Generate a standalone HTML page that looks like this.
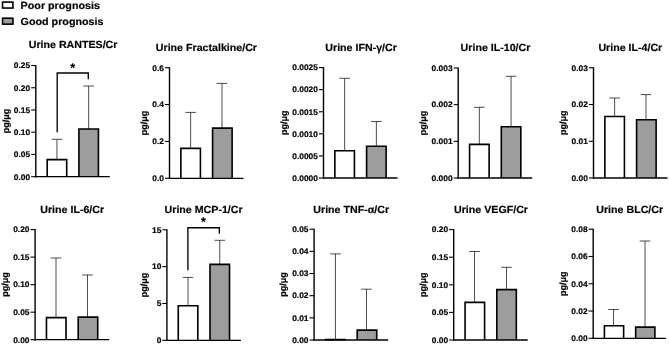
<!DOCTYPE html>
<html><head><meta charset="utf-8"><title>Urine cytokines</title>
<style>text{stroke:#000;stroke-width:0.18px;text-rendering:geometricPrecision}html,body{margin:0;padding:0;background:#fff;overflow:hidden}body{width:669px;height:345px}</style>
</head><body>
<svg width="669" height="345" viewBox="0 0 669 345" style="display:block;font-family:'Liberation Sans', sans-serif;font-weight:bold">
<rect width="669" height="345" fill="#fff"/>
<rect x="2.55" y="2.1" width="10.4" height="5.95" fill="#fff" stroke="#000" stroke-width="1.6"/>
<rect x="2.55" y="18.2" width="10.4" height="5.95" fill="#9d9d9d" stroke="#000" stroke-width="1.6"/>
<text transform="translate(20.60,9.00) scale(1.035,1)" font-size="10.386">Poor prognosis</text>
<text transform="translate(20.60,24.70) scale(1.035,1)" font-size="10.386">Good prognosis</text>
<g>
<text transform="translate(73.10,48.35) scale(1.035,1)" font-size="10.290" text-anchor="middle">Urine RANTES/Cr</text>
<text transform="translate(8.60,121.00) rotate(-90)" font-size="9.0" text-anchor="middle">pg/μg</text>
<path d="M56.94 160.20V139.30M51.64 139.30H62.24" stroke="#000" stroke-width="0.7" fill="none"/>
<path d="M88.66 129.60V86.00M83.36 86.00H93.96" stroke="#000" stroke-width="0.7" fill="none"/>
<path d="M47.17 176.70V159.60H66.71V176.70" fill="#fff" stroke="#000" stroke-width="1.6" stroke-linejoin="miter"/>
<path d="M78.89 176.70V129.00H98.43V176.70" fill="#9d9d9d" stroke="#000" stroke-width="1.6" stroke-linejoin="miter"/>
<path d="M35.80 64.95V177.40" stroke="#000" stroke-width="1.4" fill="none"/>
<path d="M35.10 176.70H109.80" stroke="#000" stroke-width="1.2999999999999998" fill="none"/>
<path d="M31.20 176.70H35.80" stroke="#000" stroke-width="1.1"/>
<text transform="translate(30.20,179.50) scale(1.03,1)" font-size="8.155" text-anchor="end">0.00</text>
<path d="M31.20 154.46H35.80" stroke="#000" stroke-width="1.1"/>
<text transform="translate(30.20,157.26) scale(1.03,1)" font-size="8.155" text-anchor="end">0.05</text>
<path d="M31.20 132.22H35.80" stroke="#000" stroke-width="1.1"/>
<text transform="translate(30.20,135.02) scale(1.03,1)" font-size="8.155" text-anchor="end">0.10</text>
<path d="M31.20 109.98H35.80" stroke="#000" stroke-width="1.1"/>
<text transform="translate(30.20,112.78) scale(1.03,1)" font-size="8.155" text-anchor="end">0.15</text>
<path d="M31.20 87.74H35.80" stroke="#000" stroke-width="1.1"/>
<text transform="translate(30.20,90.54) scale(1.03,1)" font-size="8.155" text-anchor="end">0.20</text>
<path d="M31.20 65.50H35.80" stroke="#000" stroke-width="1.1"/>
<text transform="translate(30.20,68.30) scale(1.03,1)" font-size="8.155" text-anchor="end">0.25</text>
<path d="M57.2 132.2V73.0H88.3V79.3" stroke="#000" stroke-width="1.35" fill="none"/>
<text x="72.7" y="71.55" font-size="12.5" text-anchor="middle">*</text>
</g>
<g>
<text transform="translate(206.40,50.90) scale(1.035,1)" font-size="10.290" text-anchor="middle">Urine Fractalkine/Cr</text>
<text transform="translate(147.40,122.90) rotate(-90)" font-size="9.0" text-anchor="middle">pg/μg</text>
<path d="M190.64 149.00V112.40M185.34 112.40H195.94" stroke="#000" stroke-width="0.7" fill="none"/>
<path d="M222.00 128.70V83.40M216.70 83.40H227.30" stroke="#000" stroke-width="0.7" fill="none"/>
<path d="M180.87 178.30V148.40H200.41V178.30" fill="#fff" stroke="#000" stroke-width="1.6" stroke-linejoin="miter"/>
<path d="M212.59 178.30V128.10H232.13V178.30" fill="#9d9d9d" stroke="#000" stroke-width="1.6" stroke-linejoin="miter"/>
<path d="M169.50 67.15V179.00" stroke="#000" stroke-width="1.4" fill="none"/>
<path d="M168.80 178.30H243.50" stroke="#000" stroke-width="1.2999999999999998" fill="none"/>
<path d="M164.90 178.30H169.50" stroke="#000" stroke-width="1.1"/>
<text transform="translate(163.90,181.10) scale(1.03,1)" font-size="8.155" text-anchor="end">0.0</text>
<path d="M164.90 141.43H169.50" stroke="#000" stroke-width="1.1"/>
<text transform="translate(163.90,144.23) scale(1.03,1)" font-size="8.155" text-anchor="end">0.2</text>
<path d="M164.90 104.57H169.50" stroke="#000" stroke-width="1.1"/>
<text transform="translate(163.90,107.37) scale(1.03,1)" font-size="8.155" text-anchor="end">0.4</text>
<path d="M164.90 67.70H169.50" stroke="#000" stroke-width="1.1"/>
<text transform="translate(163.90,70.50) scale(1.03,1)" font-size="8.155" text-anchor="end">0.6</text>
</g>
<g>
<text transform="translate(361.10,50.90) scale(1.035,1)" font-size="10.290" text-anchor="middle">Urine IFN-γ/Cr</text>
<text transform="translate(286.60,122.70) rotate(-90)" font-size="9.0" text-anchor="middle">pg/μg</text>
<path d="M344.64 151.30V78.30M339.34 78.30H349.94" stroke="#000" stroke-width="0.7" fill="none"/>
<path d="M376.36 146.80V121.50M371.06 121.50H381.66" stroke="#000" stroke-width="0.7" fill="none"/>
<path d="M334.87 178.00V150.70H354.41V178.00" fill="#fff" stroke="#000" stroke-width="1.6" stroke-linejoin="miter"/>
<path d="M366.59 178.00V146.20H386.13V178.00" fill="#9d9d9d" stroke="#000" stroke-width="1.6" stroke-linejoin="miter"/>
<path d="M323.50 67.05V178.70" stroke="#000" stroke-width="1.4" fill="none"/>
<path d="M322.80 178.00H397.50" stroke="#000" stroke-width="1.2999999999999998" fill="none"/>
<path d="M318.90 178.00H323.50" stroke="#000" stroke-width="1.1"/>
<text transform="translate(317.90,180.80) scale(1.03,1)" font-size="8.155" text-anchor="end">0.0000</text>
<path d="M318.90 155.92H323.50" stroke="#000" stroke-width="1.1"/>
<text transform="translate(317.90,158.72) scale(1.03,1)" font-size="8.155" text-anchor="end">0.0005</text>
<path d="M318.90 133.84H323.50" stroke="#000" stroke-width="1.1"/>
<text transform="translate(317.90,136.64) scale(1.03,1)" font-size="8.155" text-anchor="end">0.0010</text>
<path d="M318.90 111.76H323.50" stroke="#000" stroke-width="1.1"/>
<text transform="translate(317.90,114.56) scale(1.03,1)" font-size="8.155" text-anchor="end">0.0015</text>
<path d="M318.90 89.68H323.50" stroke="#000" stroke-width="1.1"/>
<text transform="translate(317.90,92.48) scale(1.03,1)" font-size="8.155" text-anchor="end">0.0020</text>
<path d="M318.90 67.60H323.50" stroke="#000" stroke-width="1.1"/>
<text transform="translate(317.90,70.40) scale(1.03,1)" font-size="8.155" text-anchor="end">0.0025</text>
</g>
<g>
<text transform="translate(495.50,50.90) scale(1.035,1)" font-size="10.290" text-anchor="middle">Urine IL-10/Cr</text>
<text transform="translate(426.40,122.90) rotate(-90)" font-size="9.0" text-anchor="middle">pg/μg</text>
<path d="M479.34 145.00V107.30M474.04 107.30H484.64" stroke="#000" stroke-width="0.7" fill="none"/>
<path d="M511.06 127.40V76.30M505.76 76.30H516.36" stroke="#000" stroke-width="0.7" fill="none"/>
<path d="M469.57 178.00V144.40H489.11V178.00" fill="#fff" stroke="#000" stroke-width="1.6" stroke-linejoin="miter"/>
<path d="M501.29 178.00V126.80H520.83V178.00" fill="#9d9d9d" stroke="#000" stroke-width="1.6" stroke-linejoin="miter"/>
<path d="M458.20 67.45V178.70" stroke="#000" stroke-width="1.4" fill="none"/>
<path d="M457.50 178.00H532.20" stroke="#000" stroke-width="1.2999999999999998" fill="none"/>
<path d="M453.60 178.00H458.20" stroke="#000" stroke-width="1.1"/>
<text transform="translate(452.60,180.80) scale(1.03,1)" font-size="8.155" text-anchor="end">0.000</text>
<path d="M453.60 141.33H458.20" stroke="#000" stroke-width="1.1"/>
<text transform="translate(452.60,144.13) scale(1.03,1)" font-size="8.155" text-anchor="end">0.001</text>
<path d="M453.60 104.67H458.20" stroke="#000" stroke-width="1.1"/>
<text transform="translate(452.60,107.47) scale(1.03,1)" font-size="8.155" text-anchor="end">0.002</text>
<path d="M453.60 68.00H458.20" stroke="#000" stroke-width="1.1"/>
<text transform="translate(452.60,70.80) scale(1.03,1)" font-size="8.155" text-anchor="end">0.003</text>
</g>
<g>
<text transform="translate(630.30,50.90) scale(1.035,1)" font-size="10.290" text-anchor="middle">Urine IL-4/Cr</text>
<text transform="translate(566.40,122.80) rotate(-90)" font-size="9.0" text-anchor="middle">pg/μg</text>
<path d="M614.64 117.10V98.00M609.34 98.00H619.94" stroke="#000" stroke-width="0.7" fill="none"/>
<path d="M646.00 120.30V94.60M640.70 94.60H651.30" stroke="#000" stroke-width="0.7" fill="none"/>
<path d="M604.87 178.00V116.50H624.41V178.00" fill="#fff" stroke="#000" stroke-width="1.6" stroke-linejoin="miter"/>
<path d="M636.59 178.00V119.70H656.13V178.00" fill="#9d9d9d" stroke="#000" stroke-width="1.6" stroke-linejoin="miter"/>
<path d="M593.50 67.25V178.70" stroke="#000" stroke-width="1.4" fill="none"/>
<path d="M592.80 178.00H667.50" stroke="#000" stroke-width="1.2999999999999998" fill="none"/>
<path d="M588.90 178.00H593.50" stroke="#000" stroke-width="1.1"/>
<text transform="translate(587.90,180.80) scale(1.03,1)" font-size="8.155" text-anchor="end">0.00</text>
<path d="M588.90 141.27H593.50" stroke="#000" stroke-width="1.1"/>
<text transform="translate(587.90,144.07) scale(1.03,1)" font-size="8.155" text-anchor="end">0.01</text>
<path d="M588.90 104.53H593.50" stroke="#000" stroke-width="1.1"/>
<text transform="translate(587.90,107.33) scale(1.03,1)" font-size="8.155" text-anchor="end">0.02</text>
<path d="M588.90 67.80H593.50" stroke="#000" stroke-width="1.1"/>
<text transform="translate(587.90,70.60) scale(1.03,1)" font-size="8.155" text-anchor="end">0.03</text>
</g>
<g>
<text transform="translate(72.20,212.75) scale(1.035,1)" font-size="10.290" text-anchor="middle">Urine IL-6/Cr</text>
<text transform="translate(8.30,284.55) rotate(-90)" font-size="9.0" text-anchor="middle">pg/μg</text>
<path d="M56.00 318.20V258.00M50.70 258.00H61.30" stroke="#000" stroke-width="0.7" fill="none"/>
<path d="M87.50 317.70V275.00M82.20 275.00H92.80" stroke="#000" stroke-width="0.7" fill="none"/>
<path d="M46.47 339.70V317.60H66.01V339.70" fill="#fff" stroke="#000" stroke-width="1.6" stroke-linejoin="miter"/>
<path d="M78.19 339.70V317.10H97.73V339.70" fill="#9d9d9d" stroke="#000" stroke-width="1.6" stroke-linejoin="miter"/>
<path d="M35.10 229.05V340.40" stroke="#000" stroke-width="1.4" fill="none"/>
<path d="M34.40 339.70H109.10" stroke="#000" stroke-width="1.2999999999999998" fill="none"/>
<path d="M30.50 339.70H35.10" stroke="#000" stroke-width="1.1"/>
<text transform="translate(29.50,342.50) scale(1.03,1)" font-size="8.155" text-anchor="end">0.00</text>
<path d="M30.50 312.18H35.10" stroke="#000" stroke-width="1.1"/>
<text transform="translate(29.50,314.98) scale(1.03,1)" font-size="8.155" text-anchor="end">0.05</text>
<path d="M30.50 284.65H35.10" stroke="#000" stroke-width="1.1"/>
<text transform="translate(29.50,287.45) scale(1.03,1)" font-size="8.155" text-anchor="end">0.10</text>
<path d="M30.50 257.12H35.10" stroke="#000" stroke-width="1.1"/>
<text transform="translate(29.50,259.93) scale(1.03,1)" font-size="8.155" text-anchor="end">0.15</text>
<path d="M30.50 229.60H35.10" stroke="#000" stroke-width="1.1"/>
<text transform="translate(29.50,232.40) scale(1.03,1)" font-size="8.155" text-anchor="end">0.20</text>
</g>
<g>
<text transform="translate(203.60,212.75) scale(1.035,1)" font-size="10.290" text-anchor="middle">Urine MCP-1/Cr</text>
<text transform="translate(147.00,284.95) rotate(-90)" font-size="9.0" text-anchor="middle">pg/μg</text>
<path d="M188.04 306.40V277.40M182.74 277.40H193.34" stroke="#000" stroke-width="0.7" fill="none"/>
<path d="M219.76 265.00V240.30M214.46 240.30H225.06" stroke="#000" stroke-width="0.7" fill="none"/>
<path d="M178.27 340.30V305.80H197.81V340.30" fill="#fff" stroke="#000" stroke-width="1.6" stroke-linejoin="miter"/>
<path d="M209.99 340.30V264.40H229.53V340.30" fill="#9d9d9d" stroke="#000" stroke-width="1.6" stroke-linejoin="miter"/>
<path d="M166.90 229.25V341.00" stroke="#000" stroke-width="1.4" fill="none"/>
<path d="M166.20 340.30H240.90" stroke="#000" stroke-width="1.2999999999999998" fill="none"/>
<path d="M162.30 340.30H166.90" stroke="#000" stroke-width="1.1"/>
<text transform="translate(161.30,343.10) scale(1.03,1)" font-size="8.155" text-anchor="end">0</text>
<path d="M162.30 303.47H166.90" stroke="#000" stroke-width="1.1"/>
<text transform="translate(161.30,306.27) scale(1.03,1)" font-size="8.155" text-anchor="end">5</text>
<path d="M162.30 266.63H166.90" stroke="#000" stroke-width="1.1"/>
<text transform="translate(161.30,269.43) scale(1.03,1)" font-size="8.155" text-anchor="end">10</text>
<path d="M162.30 229.80H166.90" stroke="#000" stroke-width="1.1"/>
<text transform="translate(161.30,232.60) scale(1.03,1)" font-size="8.155" text-anchor="end">15</text>
<path d="M187.9 270.3V227.7H219.35V233.65" stroke="#000" stroke-width="1.35" fill="none"/>
<text x="203.5" y="226.25" font-size="12.5" text-anchor="middle">*</text>
</g>
<g>
<text transform="translate(351.20,212.75) scale(1.035,1)" font-size="10.290" text-anchor="middle">Urine TNF-α/Cr</text>
<text transform="translate(286.40,284.50) rotate(-90)" font-size="9.0" text-anchor="middle">pg/μg</text>
<path d="M335.45 340.20V253.90M330.15 253.90H340.75" stroke="#000" stroke-width="0.7" fill="none"/>
<path d="M366.50 330.70V289.20M361.20 289.20H371.80" stroke="#000" stroke-width="0.7" fill="none"/>
<path d="M325.47 340.00V339.60H345.01V340.00" fill="#fff" stroke="#000" stroke-width="1.6" stroke-linejoin="miter"/>
<path d="M357.19 340.00V330.10H376.73V340.00" fill="#9d9d9d" stroke="#000" stroke-width="1.6" stroke-linejoin="miter"/>
<path d="M314.10 228.65V340.70" stroke="#000" stroke-width="1.4" fill="none"/>
<path d="M313.40 340.00H388.10" stroke="#000" stroke-width="1.2999999999999998" fill="none"/>
<path d="M309.50 340.00H314.10" stroke="#000" stroke-width="1.1"/>
<text transform="translate(308.50,342.80) scale(1.03,1)" font-size="8.155" text-anchor="end">0.00</text>
<path d="M309.50 317.84H314.10" stroke="#000" stroke-width="1.1"/>
<text transform="translate(308.50,320.64) scale(1.03,1)" font-size="8.155" text-anchor="end">0.01</text>
<path d="M309.50 295.68H314.10" stroke="#000" stroke-width="1.1"/>
<text transform="translate(308.50,298.48) scale(1.03,1)" font-size="8.155" text-anchor="end">0.02</text>
<path d="M309.50 273.52H314.10" stroke="#000" stroke-width="1.1"/>
<text transform="translate(308.50,276.32) scale(1.03,1)" font-size="8.155" text-anchor="end">0.03</text>
<path d="M309.50 251.36H314.10" stroke="#000" stroke-width="1.1"/>
<text transform="translate(308.50,254.16) scale(1.03,1)" font-size="8.155" text-anchor="end">0.04</text>
<path d="M309.50 229.20H314.10" stroke="#000" stroke-width="1.1"/>
<text transform="translate(308.50,232.00) scale(1.03,1)" font-size="8.155" text-anchor="end">0.05</text>
</g>
<g>
<text transform="translate(491.00,212.75) scale(1.035,1)" font-size="10.290" text-anchor="middle">Urine VEGF/Cr</text>
<text transform="translate(426.40,284.70) rotate(-90)" font-size="9.0" text-anchor="middle">pg/μg</text>
<path d="M474.55 303.00V251.50M469.25 251.50H479.85" stroke="#000" stroke-width="0.7" fill="none"/>
<path d="M506.56 290.20V267.30M501.26 267.30H511.86" stroke="#000" stroke-width="0.7" fill="none"/>
<path d="M465.07 340.00V302.40H484.61V340.00" fill="#fff" stroke="#000" stroke-width="1.6" stroke-linejoin="miter"/>
<path d="M496.79 340.00V289.60H516.33V340.00" fill="#9d9d9d" stroke="#000" stroke-width="1.6" stroke-linejoin="miter"/>
<path d="M453.70 229.05V340.70" stroke="#000" stroke-width="1.4" fill="none"/>
<path d="M453.00 340.00H527.70" stroke="#000" stroke-width="1.2999999999999998" fill="none"/>
<path d="M449.10 340.00H453.70" stroke="#000" stroke-width="1.1"/>
<text transform="translate(448.10,342.80) scale(1.03,1)" font-size="8.155" text-anchor="end">0.00</text>
<path d="M449.10 312.40H453.70" stroke="#000" stroke-width="1.1"/>
<text transform="translate(448.10,315.20) scale(1.03,1)" font-size="8.155" text-anchor="end">0.05</text>
<path d="M449.10 284.80H453.70" stroke="#000" stroke-width="1.1"/>
<text transform="translate(448.10,287.60) scale(1.03,1)" font-size="8.155" text-anchor="end">0.10</text>
<path d="M449.10 257.20H453.70" stroke="#000" stroke-width="1.1"/>
<text transform="translate(448.10,260.00) scale(1.03,1)" font-size="8.155" text-anchor="end">0.15</text>
<path d="M449.10 229.60H453.70" stroke="#000" stroke-width="1.1"/>
<text transform="translate(448.10,232.40) scale(1.03,1)" font-size="8.155" text-anchor="end">0.20</text>
</g>
<g>
<text transform="translate(629.70,212.75) scale(1.035,1)" font-size="10.290" text-anchor="middle">Urine BLC/Cr</text>
<text transform="translate(566.00,283.65) rotate(-90)" font-size="9.0" text-anchor="middle">pg/μg</text>
<path d="M613.55 326.30V309.50M608.25 309.50H618.85" stroke="#000" stroke-width="0.7" fill="none"/>
<path d="M645.00 327.70V241.00M639.70 241.00H650.30" stroke="#000" stroke-width="0.7" fill="none"/>
<path d="M604.41 338.30V325.70H623.64V338.30" fill="#fff" stroke="#000" stroke-width="1.6" stroke-linejoin="miter"/>
<path d="M635.66 338.30V327.10H654.89V338.30" fill="#9d9d9d" stroke="#000" stroke-width="1.6" stroke-linejoin="miter"/>
<path d="M593.20 228.65V339.00" stroke="#000" stroke-width="1.4" fill="none"/>
<path d="M592.50 338.30H666.10" stroke="#000" stroke-width="1.2999999999999998" fill="none"/>
<path d="M588.60 338.30H593.20" stroke="#000" stroke-width="1.1"/>
<text transform="translate(587.60,341.10) scale(1.03,1)" font-size="8.155" text-anchor="end">0.00</text>
<path d="M588.60 311.02H593.20" stroke="#000" stroke-width="1.1"/>
<text transform="translate(587.60,313.82) scale(1.03,1)" font-size="8.155" text-anchor="end">0.02</text>
<path d="M588.60 283.75H593.20" stroke="#000" stroke-width="1.1"/>
<text transform="translate(587.60,286.55) scale(1.03,1)" font-size="8.155" text-anchor="end">0.04</text>
<path d="M588.60 256.48H593.20" stroke="#000" stroke-width="1.1"/>
<text transform="translate(587.60,259.28) scale(1.03,1)" font-size="8.155" text-anchor="end">0.06</text>
<path d="M588.60 229.20H593.20" stroke="#000" stroke-width="1.1"/>
<text transform="translate(587.60,232.00) scale(1.03,1)" font-size="8.155" text-anchor="end">0.08</text>
</g>
</svg>
</body></html>
